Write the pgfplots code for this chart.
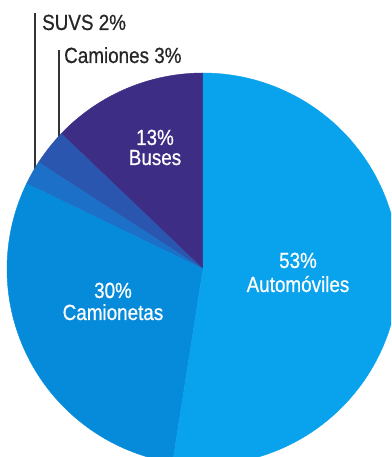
\documentclass[border=0pt]{standalone}
\usepackage{fontspec}
\setmainfont{Liberation Sans}[FakeStretch=0.86, FakeBold=0.6]
\usepackage{pgfplots}
\pgfplotsset{compat=1.18}
\definecolor{cAuto}{RGB}{8,163,236}
\definecolor{cCamta}{RGB}{6,138,218}
\definecolor{cSuv}{RGB}{28,112,200}
\definecolor{cCam}{RGB}{42,86,176}
\definecolor{cBus}{RGB}{61,45,132}
\begin{document}
\begin{tikzpicture}
% shares in percent (as printed): Buses 13, Camiones 3, SUVS 2, Camionetas 30, Automoviles 53
\pgfmathsetmacro\k{360/101}
\pgfmathsetmacro\aA{90}
\pgfmathsetmacro\aB{\aA+13*\k}
\pgfmathsetmacro\aC{\aB+3*\k}
\pgfmathsetmacro\aD{\aC+2*\k}
\pgfmathsetmacro\aE{\aD+30*\k}
\pgfmathsetmacro\aF{\aE+53*\k}
\def\cx{203}\def\cy{188}\def\r{196}
\begin{axis}[hide axis, x=1bp, y=1bp, xmin=0, xmax=391, ymin=0, ymax=457, clip=true,
  every axis plot/.append style={line width=0.4bp}]
\coordinate (SW) at (rel axis cs:0,0);
\coordinate (NE) at (rel axis cs:1,1);
\draw[line width=1.3bp, black!80] (axis cs:35,444) -- (axis cs:35,280);
\draw[line width=1.3bp, black!80] (axis cs:59,407) -- (axis cs:59,310);
\addplot[fill=cBus, draw=cBus, domain=\aA:\aB, samples=60, variable=\t] ({\cx+\r*cos(\t)},{\cy+\r*sin(\t)}) -- (axis cs:\cx,\cy) -- cycle;
\addplot[fill=cCam, draw=cCam, domain=\aB:\aC, samples=20, variable=\t] ({\cx+\r*cos(\t)},{\cy+\r*sin(\t)}) -- (axis cs:\cx,\cy) -- cycle;
\addplot[fill=cSuv, draw=cSuv, domain=\aC:\aD, samples=20, variable=\t] ({\cx+\r*cos(\t)},{\cy+\r*sin(\t)}) -- (axis cs:\cx,\cy) -- cycle;
\addplot[fill=cCamta, draw=cCamta, domain=\aD:\aE, samples=100, variable=\t] ({\cx+\r*cos(\t)},{\cy+\r*sin(\t)}) -- (axis cs:\cx,\cy) -- cycle;
\addplot[fill=cAuto, draw=cAuto, domain=\aE:\aF, samples=150, variable=\t] ({\cx+\r*cos(\t)},{\cy+\r*sin(\t)}) -- (axis cs:\cx,\cy) -- cycle;
\node[anchor=base west, inner sep=0pt, font=\fontsize{22}{24}\selectfont, text=black!85] at (axis cs:42,427) {SUVS 2\%};
\node[anchor=base west, inner sep=0pt, font=\fontsize{22}{24}\selectfont, text=black!85] at (axis cs:64,394) {Camiones 3\%};
\node[anchor=base, font=\fontsize{22}{24}\selectfont, text=white] at (axis cs:155,312) {13\%};
\node[anchor=base, font=\fontsize{22}{24}\selectfont, text=white] at (axis cs:155,292) {Buses};
\node[anchor=base, font=\fontsize{22}{24}\selectfont, text=white] at (axis cs:298,189) {53\%};
\node[anchor=base, font=\fontsize{22}{24}\selectfont, text=white] at (axis cs:298,165) {Automóviles};
\node[anchor=base, font=\fontsize{22}{24}\selectfont, text=white] at (axis cs:113,159) {30\%};
\node[anchor=base, font=\fontsize{22}{24}\selectfont, text=white] at (axis cs:113,137) {Camionetas};
\end{axis}
\pgfresetboundingbox
\useasboundingbox (SW) rectangle (NE);
\end{tikzpicture}
\end{document}
